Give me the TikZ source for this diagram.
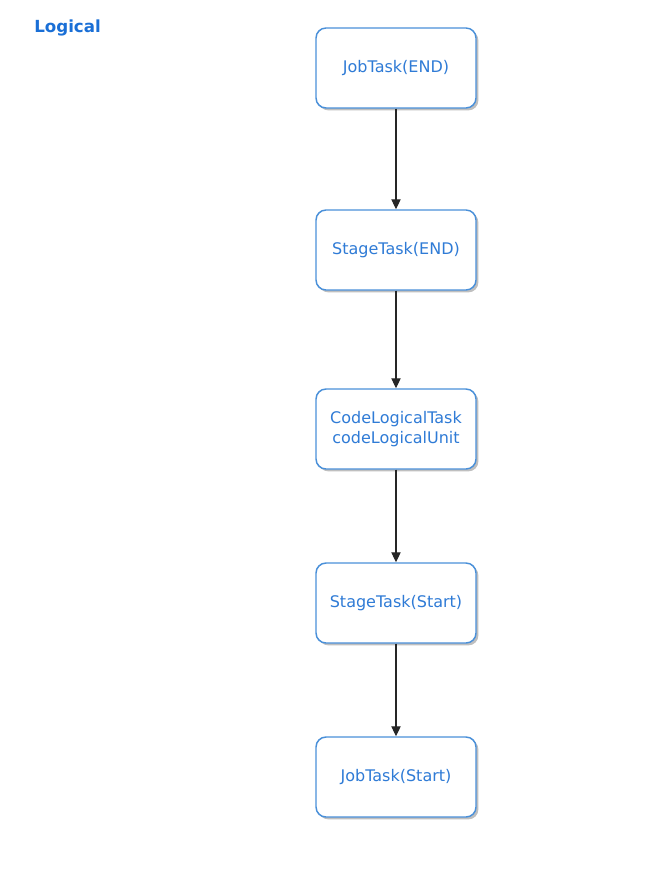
\documentclass[tikz,border=0pt]{standalone}
\usepackage{fontspec}
\setmainfont{DejaVu Sans}
\usetikzlibrary{arrows.meta,shadows}
\definecolor{boxline}{HTML}{4A90D9}
\definecolor{boxtext}{HTML}{2F7BD6}
\definecolor{titleblue}{HTML}{1A6FD6}
\begin{document}
\begin{tikzpicture}[x=0.75pt,y=-0.75pt,
  taskbox/.style={draw=boxline,line width=1.1pt,rounded corners=7.5pt,fill=white,
    minimum width=120pt,minimum height=60pt,align=center,text=boxtext,
    font=\fontsize{12}{14.5}\selectfont,
    drop shadow={shadow xshift=1.8pt,shadow yshift=-1.8pt,fill=black,opacity=0.25}},
  flow/.style={draw=black!85,line width=0.8pt,-{Triangle[length=7.5pt,width=7pt]}}]
\useasboundingbox (0,0) rectangle (664,888);
\node[anchor=west,text=titleblue,font=\bfseries\fontsize{12.5}{14}\selectfont,inner sep=0pt] (title) at (34,28) {Logical};
\node[taskbox] (j1) at (396,68) {JobTask(END)};
\node[taskbox] (s1) at (396,250) {StageTask(END)};
\node[taskbox] (c) at (396,429) {CodeLogicalTask\\codeLogicalUnit};
\node[taskbox] (s2) at (396,603) {StageTask(Start)};
\node[taskbox] (j2) at (396,777) {JobTask(Start)};
\draw[flow] (j1) -- (s1);
\draw[flow] (s1) -- (c);
\draw[flow] (c) -- (s2);
\draw[flow] (s2) -- (j2);
\end{tikzpicture}
\end{document}
